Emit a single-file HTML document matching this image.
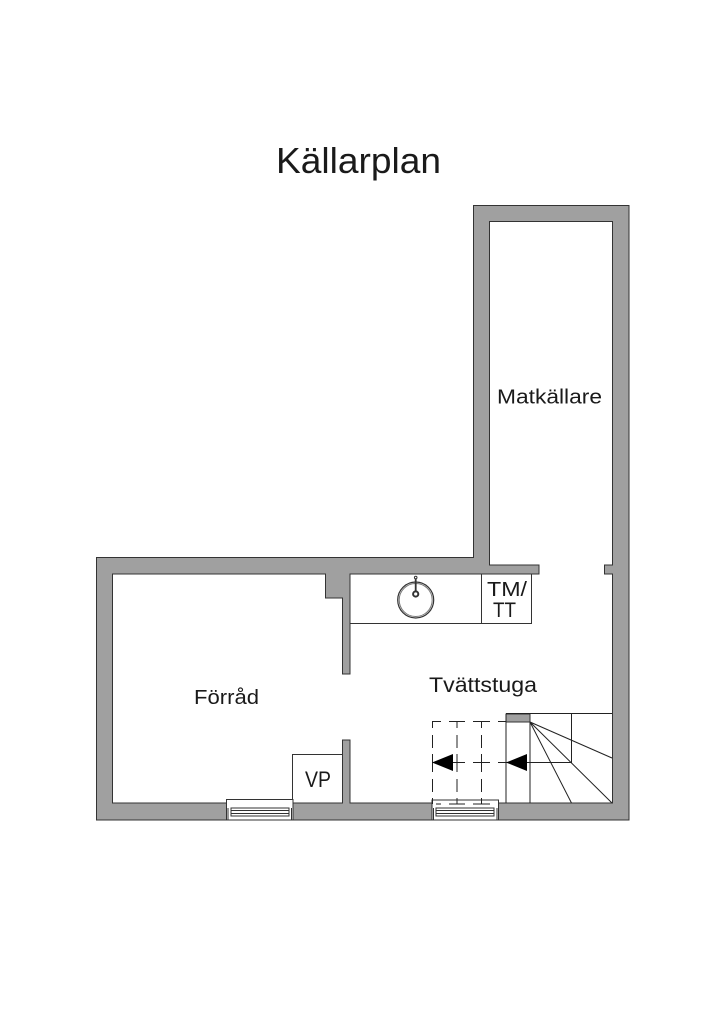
<!DOCTYPE html>
<html lang="sv">
<head>
<meta charset="utf-8">
<title>Källarplan</title>
<style>
html,body{margin:0;padding:0;background:#fff}
svg{display:block}
text{font-family:"Liberation Sans",sans-serif;fill:#1a1a1a}
</style>
</head>
<body>
<svg width="724" height="1024" viewBox="0 0 724 1024" xmlns="http://www.w3.org/2000/svg">
<rect width="724" height="1024" fill="#fff"/>
<text x="276" y="173" font-size="36" textLength="165" lengthAdjust="spacingAndGlyphs">Källarplan</text>

<path fill="#a0a0a0" stroke="#333" stroke-width="1" fill-rule="evenodd" d="M96.5 557.5H473.5V205.5H629V820H96.5Z M112.5 574V803H342.5V740H350V803H612.5V574H604.5V565H612.5V221.5H489.5V565H539V574H350V674H342.5V598H325.5V574Z"/>

<g fill="none" stroke="#333" stroke-width="1">
  <path d="M350 623.5H531.5V574M481.5 574V623.5"/>
  <path d="M292.5 803V754.5H342.5"/>
  <circle cx="415.7" cy="600" r="18" stroke-width="1.2"/>
  <circle cx="415.7" cy="600" r="16.5" stroke="#777"/>
  <circle cx="415.7" cy="594" r="2.6" stroke-width="2"/>
  <circle cx="415.7" cy="577.5" r="1.3"/>
  <path d="M415.7 578.5V591" stroke-width="1.8"/>
</g>

<!-- windows -->
<g fill="#fff" stroke="#333" stroke-width="1">
  <rect x="226.5" y="799.5" width="66.5" height="20.5"/>
  <rect x="231" y="808" width="58" height="8"/>
  <path d="M231 810.5H289M231 813.5H289M228 808V820M291.5 808V820" fill="none"/>
  <rect x="432" y="800" width="66.5" height="20"/>
  <rect x="436" y="808" width="58" height="8"/>
  <path d="M436 810.5H494M436 813.5H494M433.5 808V820M497 808V820" fill="none"/>
</g>

<!-- stairs -->
<rect x="506" y="714" width="24" height="8" fill="#a0a0a0" stroke="#333" stroke-width="1"/>
<g fill="none" stroke="#222" stroke-width="1">
  <path d="M506 713.5H612M506 714V803M530 722V803M571.5 714V762.5H530"/>
  <path d="M530 722L612 758M530 722L612 803M530 722L571.5 803"/>
  <path d="M506 762.5H530"/>
</g>
<g fill="none" stroke="#222" stroke-width="1">
  <path d="M432 721.5H441M449 721.5H465M473 721.5H490M498 721.5H506"/>
  <path d="M432 762.5H465M473 762.5H490M498 762.5H506"/>
  <path d="M436 804H441M449 804H465M473 804H490"/>
  <path d="M432.5 722V728M432.5 735V748M432.5 754V772M432.5 779V792M432.5 798V804"/>
  <path d="M457 722V728M457 735V748M457 754V772M457 779V792M457 798V804"/>
  <path d="M481.5 722V728M481.5 735V748M481.5 754V772M481.5 779V792M481.5 798V804"/>
</g>
<path d="M432 762.5L453 754V771Z M506 762.5L527 754V771Z" fill="#000"/>

<text x="497" y="403.5" font-size="20" textLength="105" lengthAdjust="spacingAndGlyphs">Matkällare</text>
<text x="194" y="704" font-size="20" textLength="65" lengthAdjust="spacingAndGlyphs">Förråd</text>
<text x="429" y="692" font-size="21" textLength="108" lengthAdjust="spacingAndGlyphs">Tvättstuga</text>
<text x="305" y="787" font-size="22" textLength="26" lengthAdjust="spacingAndGlyphs">VP</text>
<text x="487" y="596" font-size="20" textLength="40" lengthAdjust="spacingAndGlyphs">TM/</text>
<text x="493" y="617" font-size="21" textLength="23" lengthAdjust="spacingAndGlyphs">TT</text>
</svg>
</body>
</html>
